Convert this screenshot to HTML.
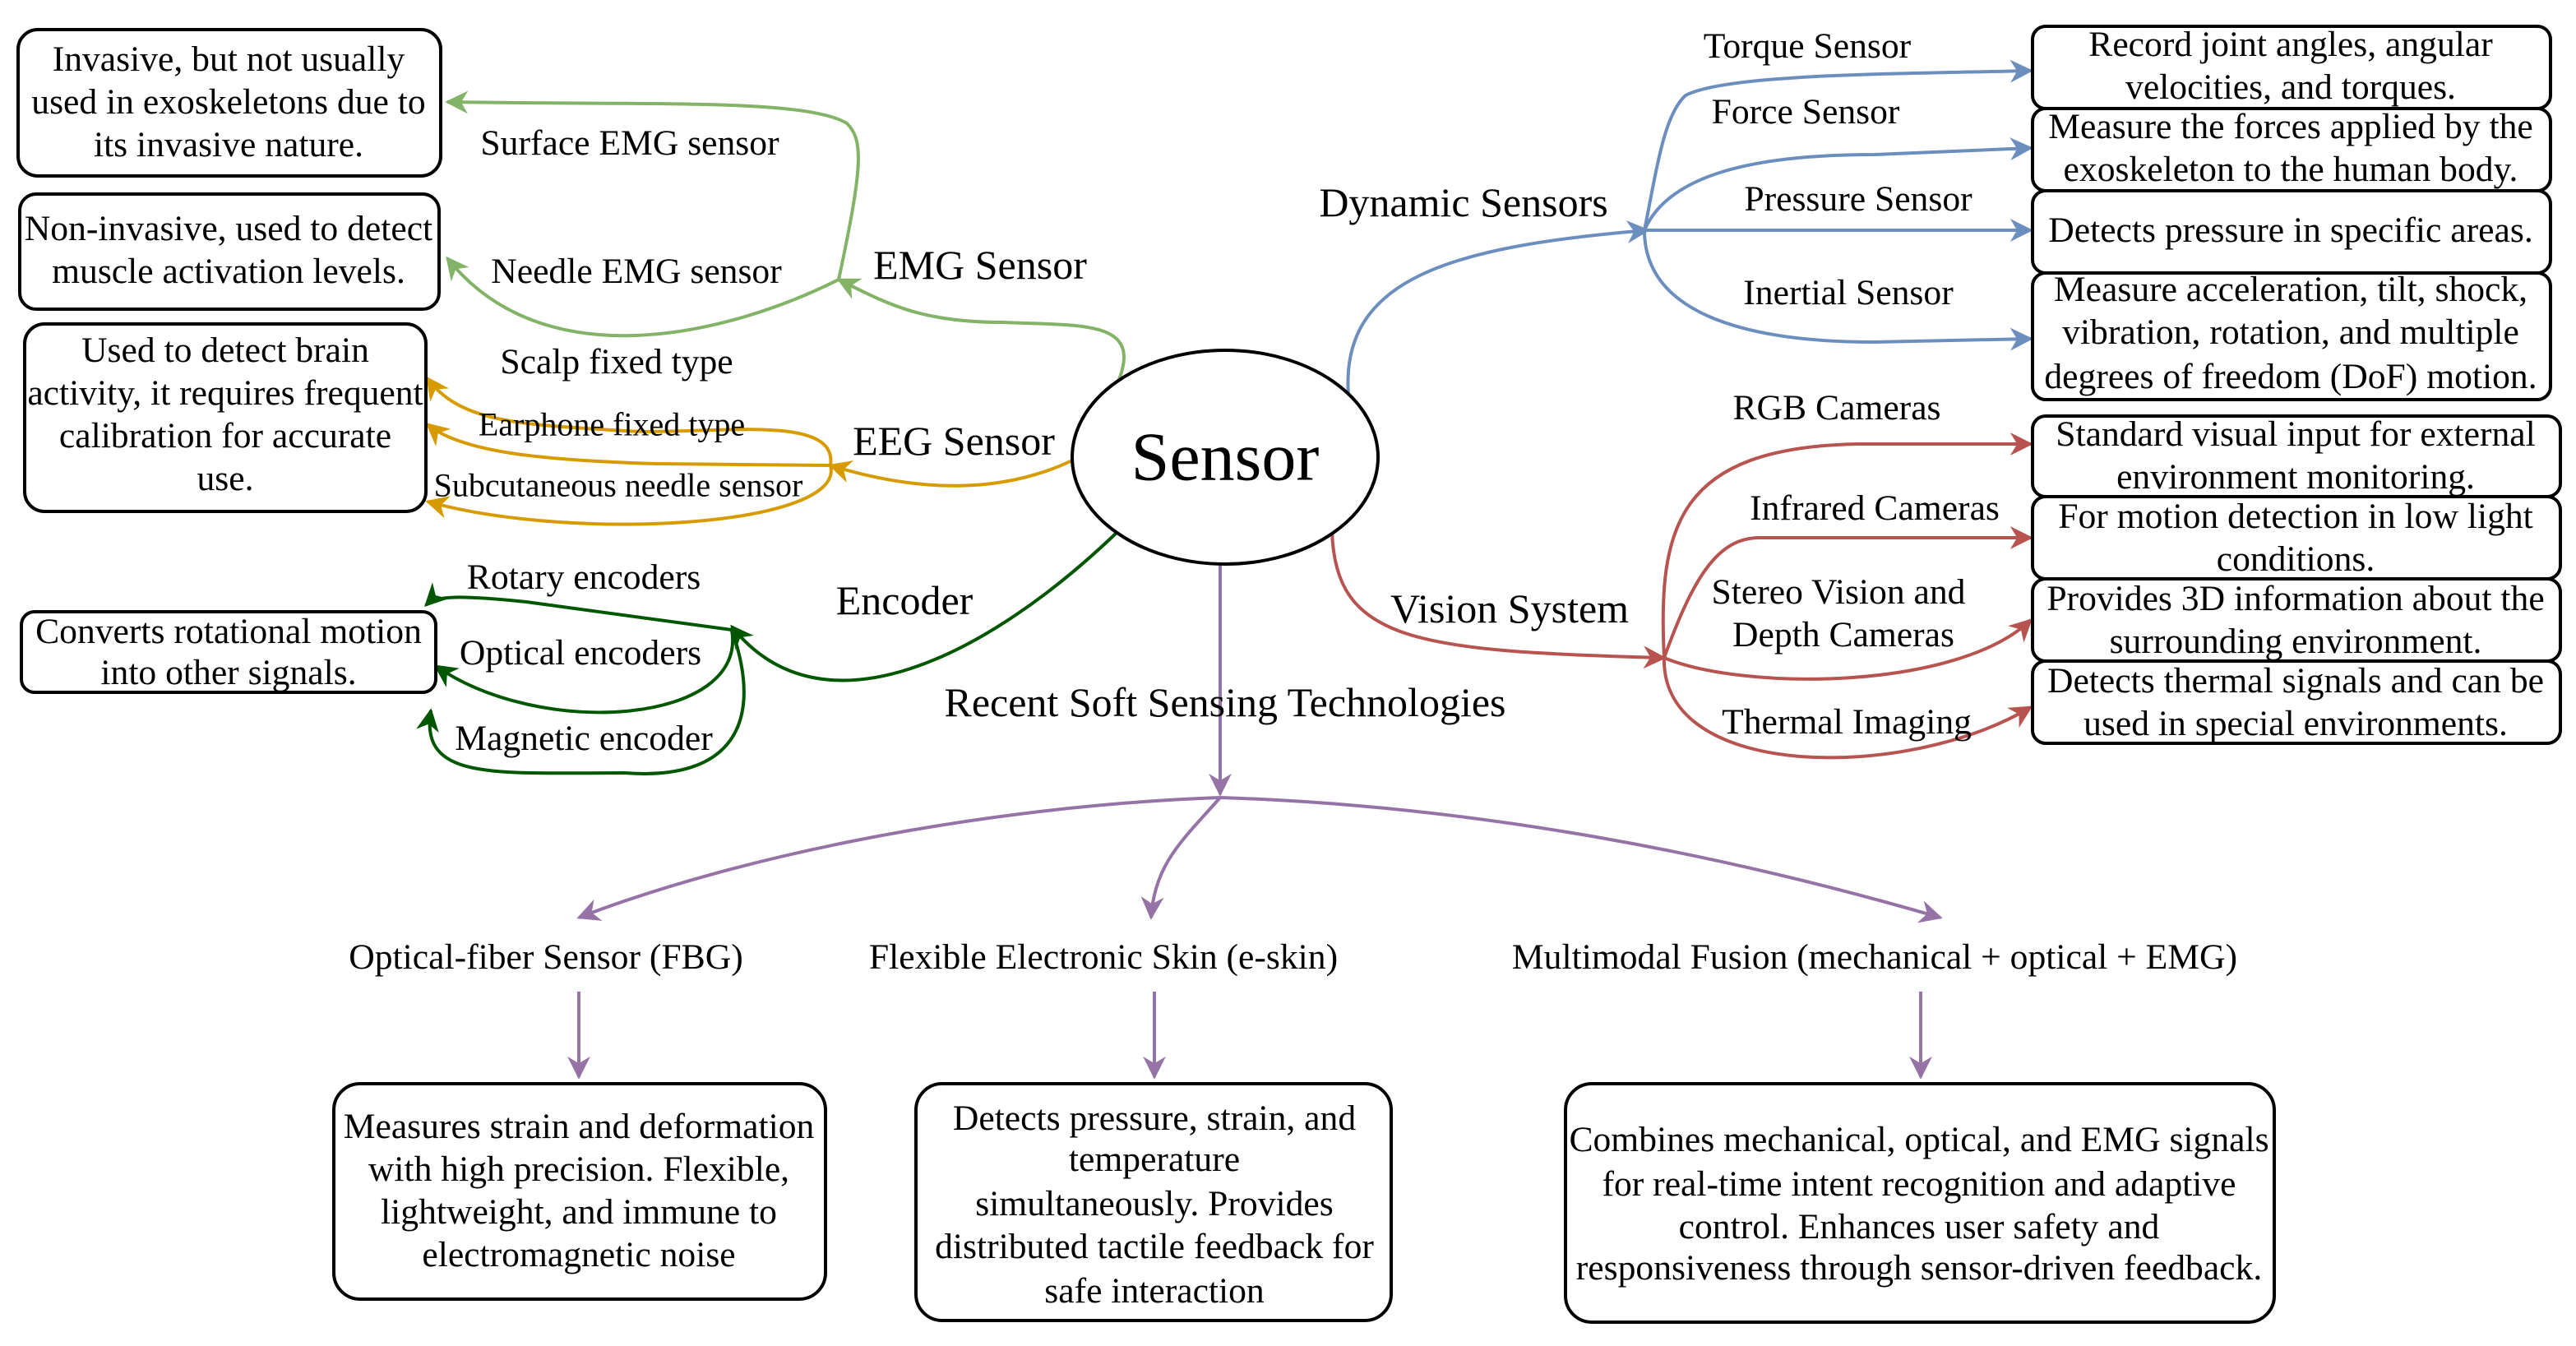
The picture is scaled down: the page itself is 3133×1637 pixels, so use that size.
<!DOCTYPE html>
<html><head><meta charset="utf-8"><style>html,body{margin:0;padding:0;background:#fff}svg{display:block}svg text{font-family:"Liberation Serif","Times New Roman",serif}</style></head>
<body>
<svg xmlns="http://www.w3.org/2000/svg" width="3133" height="1637" viewBox="0 0 1566.5 818.5" font-family="'Liberation Serif', serif" font-size="21.8">
<defs>
<marker id="mg" viewBox="0 0 10 10" refX="9" refY="5" markerWidth="7" markerHeight="7" orient="auto"><path d="M0,0 L10,5 L0,10 L3,5z" fill="#82b366"/></marker>
<marker id="mo" viewBox="0 0 10 10" refX="9" refY="5" markerWidth="7" markerHeight="7" orient="auto"><path d="M0,0 L10,5 L0,10 L3,5z" fill="#d79b00"/></marker>
<marker id="md" viewBox="0 0 10 10" refX="9" refY="5" markerWidth="7" markerHeight="7" orient="auto"><path d="M0,0 L10,5 L0,10 L3,5z" fill="#005700"/></marker>
<marker id="mb" viewBox="0 0 10 10" refX="9" refY="5" markerWidth="7" markerHeight="7" orient="auto"><path d="M0,0 L10,5 L0,10 L3,5z" fill="#6c8ebf"/></marker>
<marker id="mr" viewBox="0 0 10 10" refX="9" refY="5" markerWidth="7" markerHeight="7" orient="auto"><path d="M0,0 L10,5 L0,10 L3,5z" fill="#b85450"/></marker>
<marker id="mp" viewBox="0 0 10 10" refX="9" refY="5" markerWidth="7" markerHeight="7" orient="auto"><path d="M0,0 L10,5 L0,10 L3,5z" fill="#9673a6"/></marker>
</defs>
<g fill="none" stroke-width="2">
<g stroke="#82b366">
<path d="M680,232 C695,195 660,198 610,196 C560,196 540,185 510,170" marker-end="url(#mg)"/>
<path d="M510,170 C525,100 525,85 515,75 C490,60 400,64 272,62" marker-end="url(#mg)"/>
<path d="M510,170 C440,205 330,230 272,157" marker-end="url(#mg)"/>
</g>
<g stroke="#d79b00">
<path d="M652,280 C610,300 560,300 505,283" marker-end="url(#mo)"/>
<path d="M505,283 C510,250 430,265 380,262 C320,258 280,258 260,230" marker-end="url(#mo)"/>
<path d="M505,283 L400,282 C330,280 280,275 260,258" marker-end="url(#mo)"/>
<path d="M505,283 C515,320 350,330 260,305" marker-end="url(#mo)"/>
</g>
<g stroke="#005700">
<path d="M680,323 C600,400 500,450 445,381" marker-end="url(#md)"/>
<path d="M445,383 L320,366 C280,362 265,362 259,368" marker-end="url(#md)"/>
<path d="M445,383 C455,440 330,450 265,405" marker-end="url(#md)"/>
<path d="M445,383 C465,440 445,475 380,470 C300,470 255,475 262,432" marker-end="url(#md)"/>
</g>
<g stroke="#6c8ebf">
<path d="M820,240 C815,170 880,150 1002,140" marker-end="url(#mb)"/>
<path d="M1000,140 C1008,100 1012,70 1025,58 C1050,45 1150,45 1235,43" marker-end="url(#mb)"/>
<path d="M1000,140 C1015,105 1070,94 1140,94 L1235,90" marker-end="url(#mb)"/>
<path d="M1000,140 L1235,140" marker-end="url(#mb)"/>
<path d="M1000,140 C1000,190 1060,208 1140,208 L1235,206" marker-end="url(#mb)"/>
</g>
<g stroke="#b85450">
<path d="M810,323 C812,390 860,396 1012,400" marker-end="url(#mr)"/>
<path d="M1012,400 C1008,320 1020,272 1130,270 L1235,270" marker-end="url(#mr)"/>
<path d="M1012,400 C1030,350 1045,327 1070,327 L1235,327" marker-end="url(#mr)"/>
<path d="M1012,400 C1060,420 1190,420 1235,377" marker-end="url(#mr)"/>
<path d="M1012,400 C1010,475 1160,475 1235,430" marker-end="url(#mr)"/>
</g>
<g stroke="#9673a6">
<path d="M742,343 L742,483" marker-end="url(#mp)"/>
<path d="M742,485 C600,490 450,520 352,558" marker-end="url(#mp)"/>
<path d="M742,485 C900,490 1050,520 1180,558" marker-end="url(#mp)"/>
<path d="M742,485 C720,510 702,525 700,558" marker-end="url(#mp)"/>
<path d="M352,603 L352,655" marker-end="url(#mp)"/>
<path d="M702,603 L702,655" marker-end="url(#mp)"/>
<path d="M1168,603 L1168,655" marker-end="url(#mp)"/>
</g>
</g>
<g fill="#fff" stroke="#000" stroke-width="2">
<ellipse cx="745" cy="278" rx="93" ry="65"/>
<rect x="11" y="18" width="257" height="89" rx="12"/>
<rect x="12" y="118" width="255" height="70" rx="10"/>
<rect x="15" y="197" width="244" height="114" rx="12"/>
<rect x="13" y="372" width="252" height="49" rx="8"/>
<rect x="1236" y="16" width="315" height="50" rx="8"/>
<rect x="1236" y="66" width="315" height="50" rx="8"/>
<rect x="1236" y="116" width="315" height="50" rx="8"/>
<rect x="1236" y="166" width="315" height="77" rx="8"/>
<rect x="1236" y="253" width="321" height="49" rx="8"/>
<rect x="1236" y="302" width="321" height="50" rx="8"/>
<rect x="1236" y="352" width="321" height="50" rx="8"/>
<rect x="1236" y="402" width="321" height="50" rx="8"/>
<rect x="203" y="659" width="299" height="131" rx="16"/>
<rect x="557" y="659" width="289" height="144" rx="16"/>
<rect x="952" y="659" width="431" height="145" rx="16"/>
</g>
<g fill="#000" text-anchor="middle" dominant-baseline="central">
<text x="745" y="278" font-size="42">Sensor</text>
<text x="139" y="36">Invasive, but not usually</text>
<text x="139" y="62">used in exoskeletons due to</text>
<text x="139" y="88">its invasive nature.</text>
<text x="139" y="139">Non-invasive, used to detect</text>
<text x="139" y="165">muscle activation levels.</text>
<text x="137" y="213">Used to detect brain</text>
<text x="137" y="239">activity, it requires frequent</text>
<text x="137" y="265">calibration for accurate</text>
<text x="137" y="291">use.</text>
<text x="139" y="384">Converts rotational motion</text>
<text x="139" y="409">into other signals.</text>
<text x="596" y="161" font-size="25">EMG Sensor</text>
<text x="383" y="87">Surface EMG sensor</text>
<text x="387" y="165">Needle EMG sensor</text>
<text x="580" y="268" font-size="25">EEG Sensor</text>
<text x="375" y="220">Scalp fixed type</text>
<text x="372" y="258" font-size="20">Earphone fixed type</text>
<text x="376" y="295" font-size="20">Subcutaneous needle sensor</text>
<text x="550" y="365" font-size="25">Encoder</text>
<text x="355" y="351">Rotary encoders</text>
<text x="353" y="397">Optical encoders</text>
<text x="355" y="449">Magnetic encoder</text>
<text x="890" y="123" font-size="25">Dynamic Sensors</text>
<text x="1099" y="28">Torque Sensor</text>
<text x="1098" y="68">Force Sensor</text>
<text x="1130" y="121">Pressure Sensor</text>
<text x="1124" y="178">Inertial Sensor</text>
<text x="1393" y="27">Record joint angles, angular</text>
<text x="1393" y="53">velocities, and torques.</text>
<text x="1393" y="77">Measure the forces applied by the</text>
<text x="1393" y="103">exoskeleton to the human body.</text>
<text x="1393" y="140">Detects pressure in specific areas.</text>
<text x="1393" y="176">Measure acceleration, tilt, shock,</text>
<text x="1393" y="202">vibration, rotation, and multiple</text>
<text x="1393" y="229">degrees of freedom (DoF) motion.</text>
<text x="918" y="370" font-size="25">Vision System</text>
<text x="1117" y="248">RGB Cameras</text>
<text x="1140" y="309">Infrared Cameras</text>
<text x="1118" y="360">Stereo Vision and</text>
<text x="1121" y="386">Depth Cameras</text>
<text x="1123" y="439">Thermal Imaging</text>
<text x="1396" y="264">Standard visual input for external</text>
<text x="1396" y="290">environment monitoring.</text>
<text x="1396" y="314">For motion detection in low light</text>
<text x="1396" y="340">conditions.</text>
<text x="1396" y="364">Provides 3D information about the</text>
<text x="1396" y="390">surrounding environment.</text>
<text x="1396" y="414">Detects thermal signals and can be</text>
<text x="1396" y="440">used in special environments.</text>
<text x="745" y="427" font-size="25">Recent Soft Sensing Technologies</text>
<text x="332" y="582">Optical-fiber Sensor (FBG)</text>
<text x="671" y="582">Flexible Electronic Skin (e-skin)</text>
<text x="1140" y="582">Multimodal Fusion (mechanical + optical + EMG)</text>
<text x="352" y="685">Measures strain and deformation</text>
<text x="352" y="711">with high precision. Flexible,</text>
<text x="352" y="737">lightweight, and immune to</text>
<text x="352" y="763">electromagnetic noise</text>
<text x="702" y="680">Detects pressure, strain, and</text>
<text x="702" y="705">temperature</text>
<text x="702" y="732">simultaneously. Provides</text>
<text x="702" y="758">distributed tactile feedback for</text>
<text x="702" y="785">safe interaction</text>
<text x="1167" y="693">Combines mechanical, optical, and EMG signals</text>
<text x="1167" y="720">for real-time intent recognition and adaptive</text>
<text x="1167" y="746">control. Enhances user safety and</text>
<text x="1167" y="771">responsiveness through sensor-driven feedback.</text>
</g>
</svg>
</body></html>
